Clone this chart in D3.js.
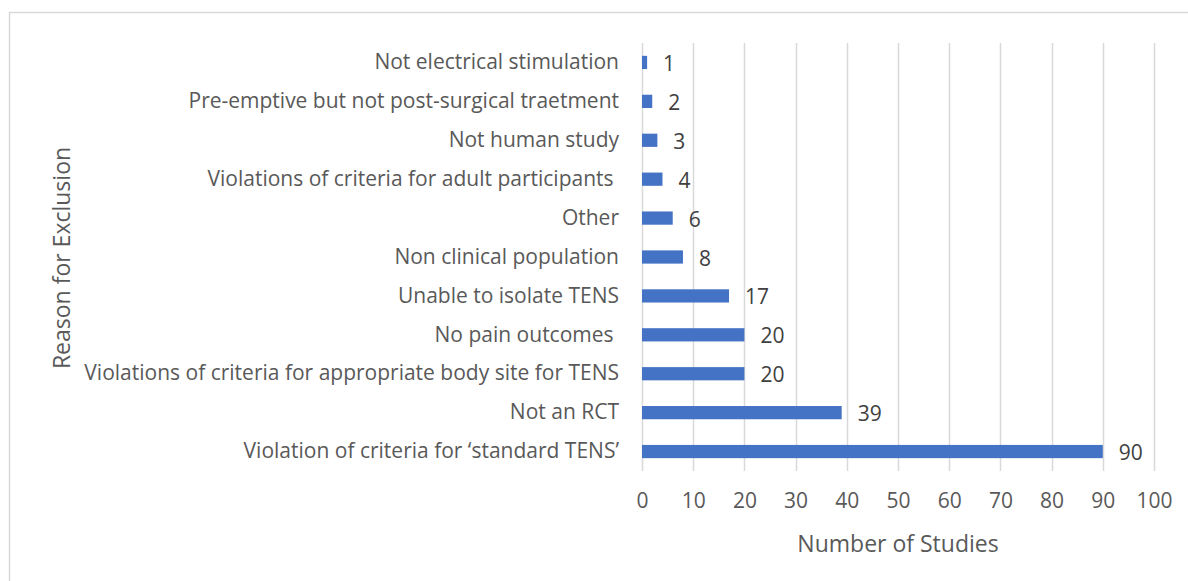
<!DOCTYPE html>
<html>
<head>
<meta charset="utf-8">
<script src="https://cdn.jsdelivr.net/npm/d3@7"></script>
<style>
  body { margin: 0; background: #fff; }
  text { font-family: "Open Sans", "Noto Sans", sans-serif; fill: #595959; white-space: pre; }
</style>
</head>
<body>
<div id="chart"></div>
<script>
// données du graphique (haut vers bas)
const categories = [
  "Not electrical stimulation",
  "Pre-emptive but not post-surgical traetment",
  "Not human study",
  "Violations of criteria for adult participants ",
  "Other",
  "Non clinical population",
  "Unable to isolate TENS",
  "No pain outcomes ",
  "Violations of criteria for appropriate body site for TENS",
  "Not an RCT",
  "Violation of criteria for \u2018standard TENS\u2019"
];
const values = [1, 2, 3, 4, 6, 8, 17, 20, 20, 39, 90];
const xTicks = [0, 10, 20, 30, 40, 50, 60, 70, 80, 90, 100];
const xTitle = "Number of Studies";
const yTitle = "Reason for Exclusion";

const W = 1188, H = 581;
const margin = {top: 43, left: 642, right: W - 1154, bottom: H - 471};
const width = W - margin.left - margin.right;
const height = H - margin.top - margin.bottom;

let svg = d3.select("#chart").append("svg")
    .attr("width", W)
    .attr("height", H);

// cadre du graphique
svg.append("rect")
    .attr("x", 9.5).attr("y", 12.5)
    .attr("width", 1300).attr("height", 700)
    .attr("fill", "none")
    .attr("stroke", "#d9d9d9")
    .attr("stroke-width", 1.5);

const x = d3.scaleLinear().domain([0, 100]).range([0, width]);
const y = d3.scaleBand().domain(categories).range([0, height]).paddingInner(0.66).paddingOuter(0.33);

const g = svg.append("g")
    .attr("transform", "translate(" + margin.left + "," + margin.top + ")");

// lignes de grille
g.selectAll(".grid").data(xTicks).enter().append("line")
    .attr("x1", d => Math.round(x(d)) + 0.5)
    .attr("x2", d => Math.round(x(d)) + 0.5)
    .attr("y1", 0).attr("y2", height)
    .attr("stroke", "#d9d9d9")
    .attr("stroke-width", 1.5);

// axe x (étiquettes seulement)
const axeX = d3.axisBottom(x).tickValues(xTicks).tickSize(0).tickPadding(22);
const gx = g.append("g")
    .attr("transform", "translate(0," + height + ")")
    .call(axeX);
gx.select(".domain").remove();
gx.selectAll("text").style("font-size", "21px").attr("fill", "#595959");

// axe y (étiquettes seulement)
const axeY = d3.axisLeft(y).tickSize(0).tickPadding(23);
const gy = g.append("g").call(axeY);
gy.select(".domain").remove();
gy.selectAll("text").style("font-size", "21px").attr("fill", "#595959");

// barres
g.selectAll(".bar").data(values).enter().append("rect")
    .attr("class", "bar")
    .attr("x", 0)
    .attr("y", (d, i) => y(categories[i]))
    .attr("width", d => x(d))
    .attr("height", y.bandwidth())
    .attr("fill", "#4472c4");

// valeurs
g.selectAll(".val").data(values).enter().append("text")
    .attr("x", d => x(d) + 16)
    .attr("y", (d, i) => y(categories[i]) + y.bandwidth() / 2 + 1)
    .attr("dy", "0.36em")
    .style("font-size", "21px")
    .style("fill", "#404040")
    .text(d => d);

// titres des axes
svg.append("text")
    .attr("x", (margin.left + W - margin.right) / 2)
    .attr("y", 552)
    .attr("text-anchor", "middle")
    .style("font-size", "23px")
    .text(xTitle);

svg.append("text")
    .attr("transform", "translate(70,258) rotate(-90)")
    .attr("text-anchor", "middle")
    .style("font-size", "23px")
    .text(yTitle);
</script>
</body>
</html>
